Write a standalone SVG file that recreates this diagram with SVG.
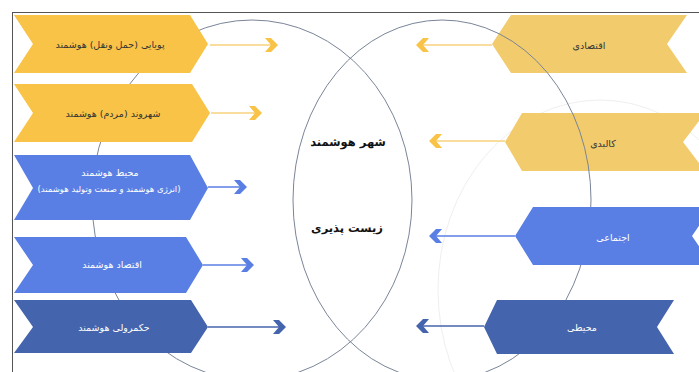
<svg xmlns="http://www.w3.org/2000/svg" width="699" height="372" viewBox="0 0 699 372">
<style>
.t{font-family:"DejaVu Sans","Noto Sans",sans-serif;font-size:9.5px;text-anchor:middle;dominant-baseline:central;direction:rtl}
.sm{font-size:8.5px}
.dk{fill:#333}
.wh{fill:#ffffff}
.big{font-family:"DejaVu Sans","Noto Sans",sans-serif;font-size:11.5px;font-weight:bold;fill:#111;text-anchor:middle;dominant-baseline:central;direction:rtl}
.ell{fill:none;stroke:#7a8598;stroke-width:1}
.y1{fill:#f8c346}
.y2{fill:#f2cb6c}
.b1{fill:#5a7fe4}
.b2{fill:#4464ad}
.ly{stroke:#f6d27e;stroke-width:1.5}
.lb{stroke:#5a7fe4;stroke-width:1.5}
.ld{stroke:#4464ad;stroke-width:1.5}
</style>
<rect width="699" height="372" fill="#ffffff"/>
<g id="frame" stroke="#555" stroke-width="1" fill="none">
<line x1="12" y1="12.5" x2="699" y2="12.5"/>
<line x1="12.5" y1="12" x2="12.5" y2="372"/>
</g>
<ellipse cx="600" cy="290" rx="162" ry="190" fill="none" stroke="#efefef" stroke-width="1"/>
<ellipse id="venn-left" class="ell" cx="252" cy="200" rx="160" ry="180"/>
<g id="left-1"><polygon class="y1" points="14,15 190,15 208,44 190,73 14,73 33,44"/><text class="t dk" x="110" y="44">پویایی (حمل ونقل) هوشمند</text></g>
<g id="left-2"><polygon class="y1" points="14,84 192,84 210,113 192,142 14,142 33,113"/><text class="t dk" x="113" y="113">شهروند (مردم) هوشمند</text></g>
<g id="left-3"><polygon class="b1" points="14,155 190,155 208,188 190,220 14,220 33,188"/><text class="t wh" x="110" y="172">محیط هوشمند</text><text class="t sm wh" x="109" y="189">(انرژی هوشمند و صنعت وتولید هوشمند)</text></g>
<g id="left-4"><polygon class="b1" points="14,237 186,237 203,265 186,293 14,293 33,265"/><text class="t wh" x="112" y="264">اقتصاد هوشمند</text></g>
<g id="left-5"><polygon class="b2" points="14,300 191,300 208,327 191,353 14,353 33,327"/><text class="t wh" x="114" y="327">حکمرولی هوشمند</text></g>
<g id="right-1"><polygon class="y2" points="492,44 511,15 687,15 667,44 687,73 511,73"/><text class="t dk" x="589" y="45">اقتصادی</text></g>
<g id="right-2"><polygon class="y2" points="505,142 522,113 705,113 683,142 705,171 522,171"/><text class="t dk" x="603" y="143">کالبدی</text></g>
<ellipse id="venn-right" class="ell" cx="442" cy="200" rx="149" ry="180"/>
<g id="right-3"><polygon class="b1" points="515,236 533,207 712,207 692,236 712,265 533,265"/><text class="t wh" x="613" y="237">اجتماعی</text></g>
<g id="right-4"><polygon class="b2" points="484,327 497,300 674,300 657,327 674,354 497,354"/><text class="t wh" x="582" y="327">محیطی</text></g>
<g id="center"><text class="big" x="348" y="142">شهر هوشمند</text><text class="big" x="347" y="228">زیست پذیری</text></g>
<g id="connectors">
<line class="ly" x1="210" y1="45" x2="272" y2="45"/>
<polygon fill="#f8c346" points="265,38 271,38 278,45 271,52 265,52 271,45"/>
<line class="ly" x1="211" y1="113" x2="256" y2="113"/>
<polygon fill="#f8c346" points="249,106 255,106 262,113 255,120 249,120 255,113"/>
<line class="lb" x1="208" y1="187" x2="241" y2="187"/>
<polygon fill="#5a7fe4" points="234,180 240,180 247,187 240,194 234,194 240,187"/>
<line class="lb" x1="203" y1="265" x2="248" y2="265"/>
<polygon fill="#5a7fe4" points="241,258 247,258 254,265 247,272 241,272 247,265"/>
<line class="ld" x1="208" y1="327" x2="280" y2="327"/>
<polygon fill="#4464ad" points="273,320 279,320 286,327 279,334 273,334 279,327"/>
<line class="ly" x1="492" y1="45" x2="422" y2="45"/>
<polygon fill="#f8c346" points="429,38 423,38 416,45 423,52 429,52 423,45"/>
<line class="ly" x1="505" y1="141" x2="435" y2="141"/>
<polygon fill="#f8c346" points="442,134 436,134 429,141 436,148 442,148 436,141"/>
<line class="lb" x1="515" y1="236" x2="435" y2="236"/>
<polygon fill="#5a7fe4" points="442,229 436,229 429,236 436,243 442,243 436,236"/>
<line class="ld" x1="484" y1="326" x2="422" y2="326"/>
<polygon fill="#4464ad" points="429,319 423,319 416,326 423,333 429,333 423,326"/>
</g>
</svg>
